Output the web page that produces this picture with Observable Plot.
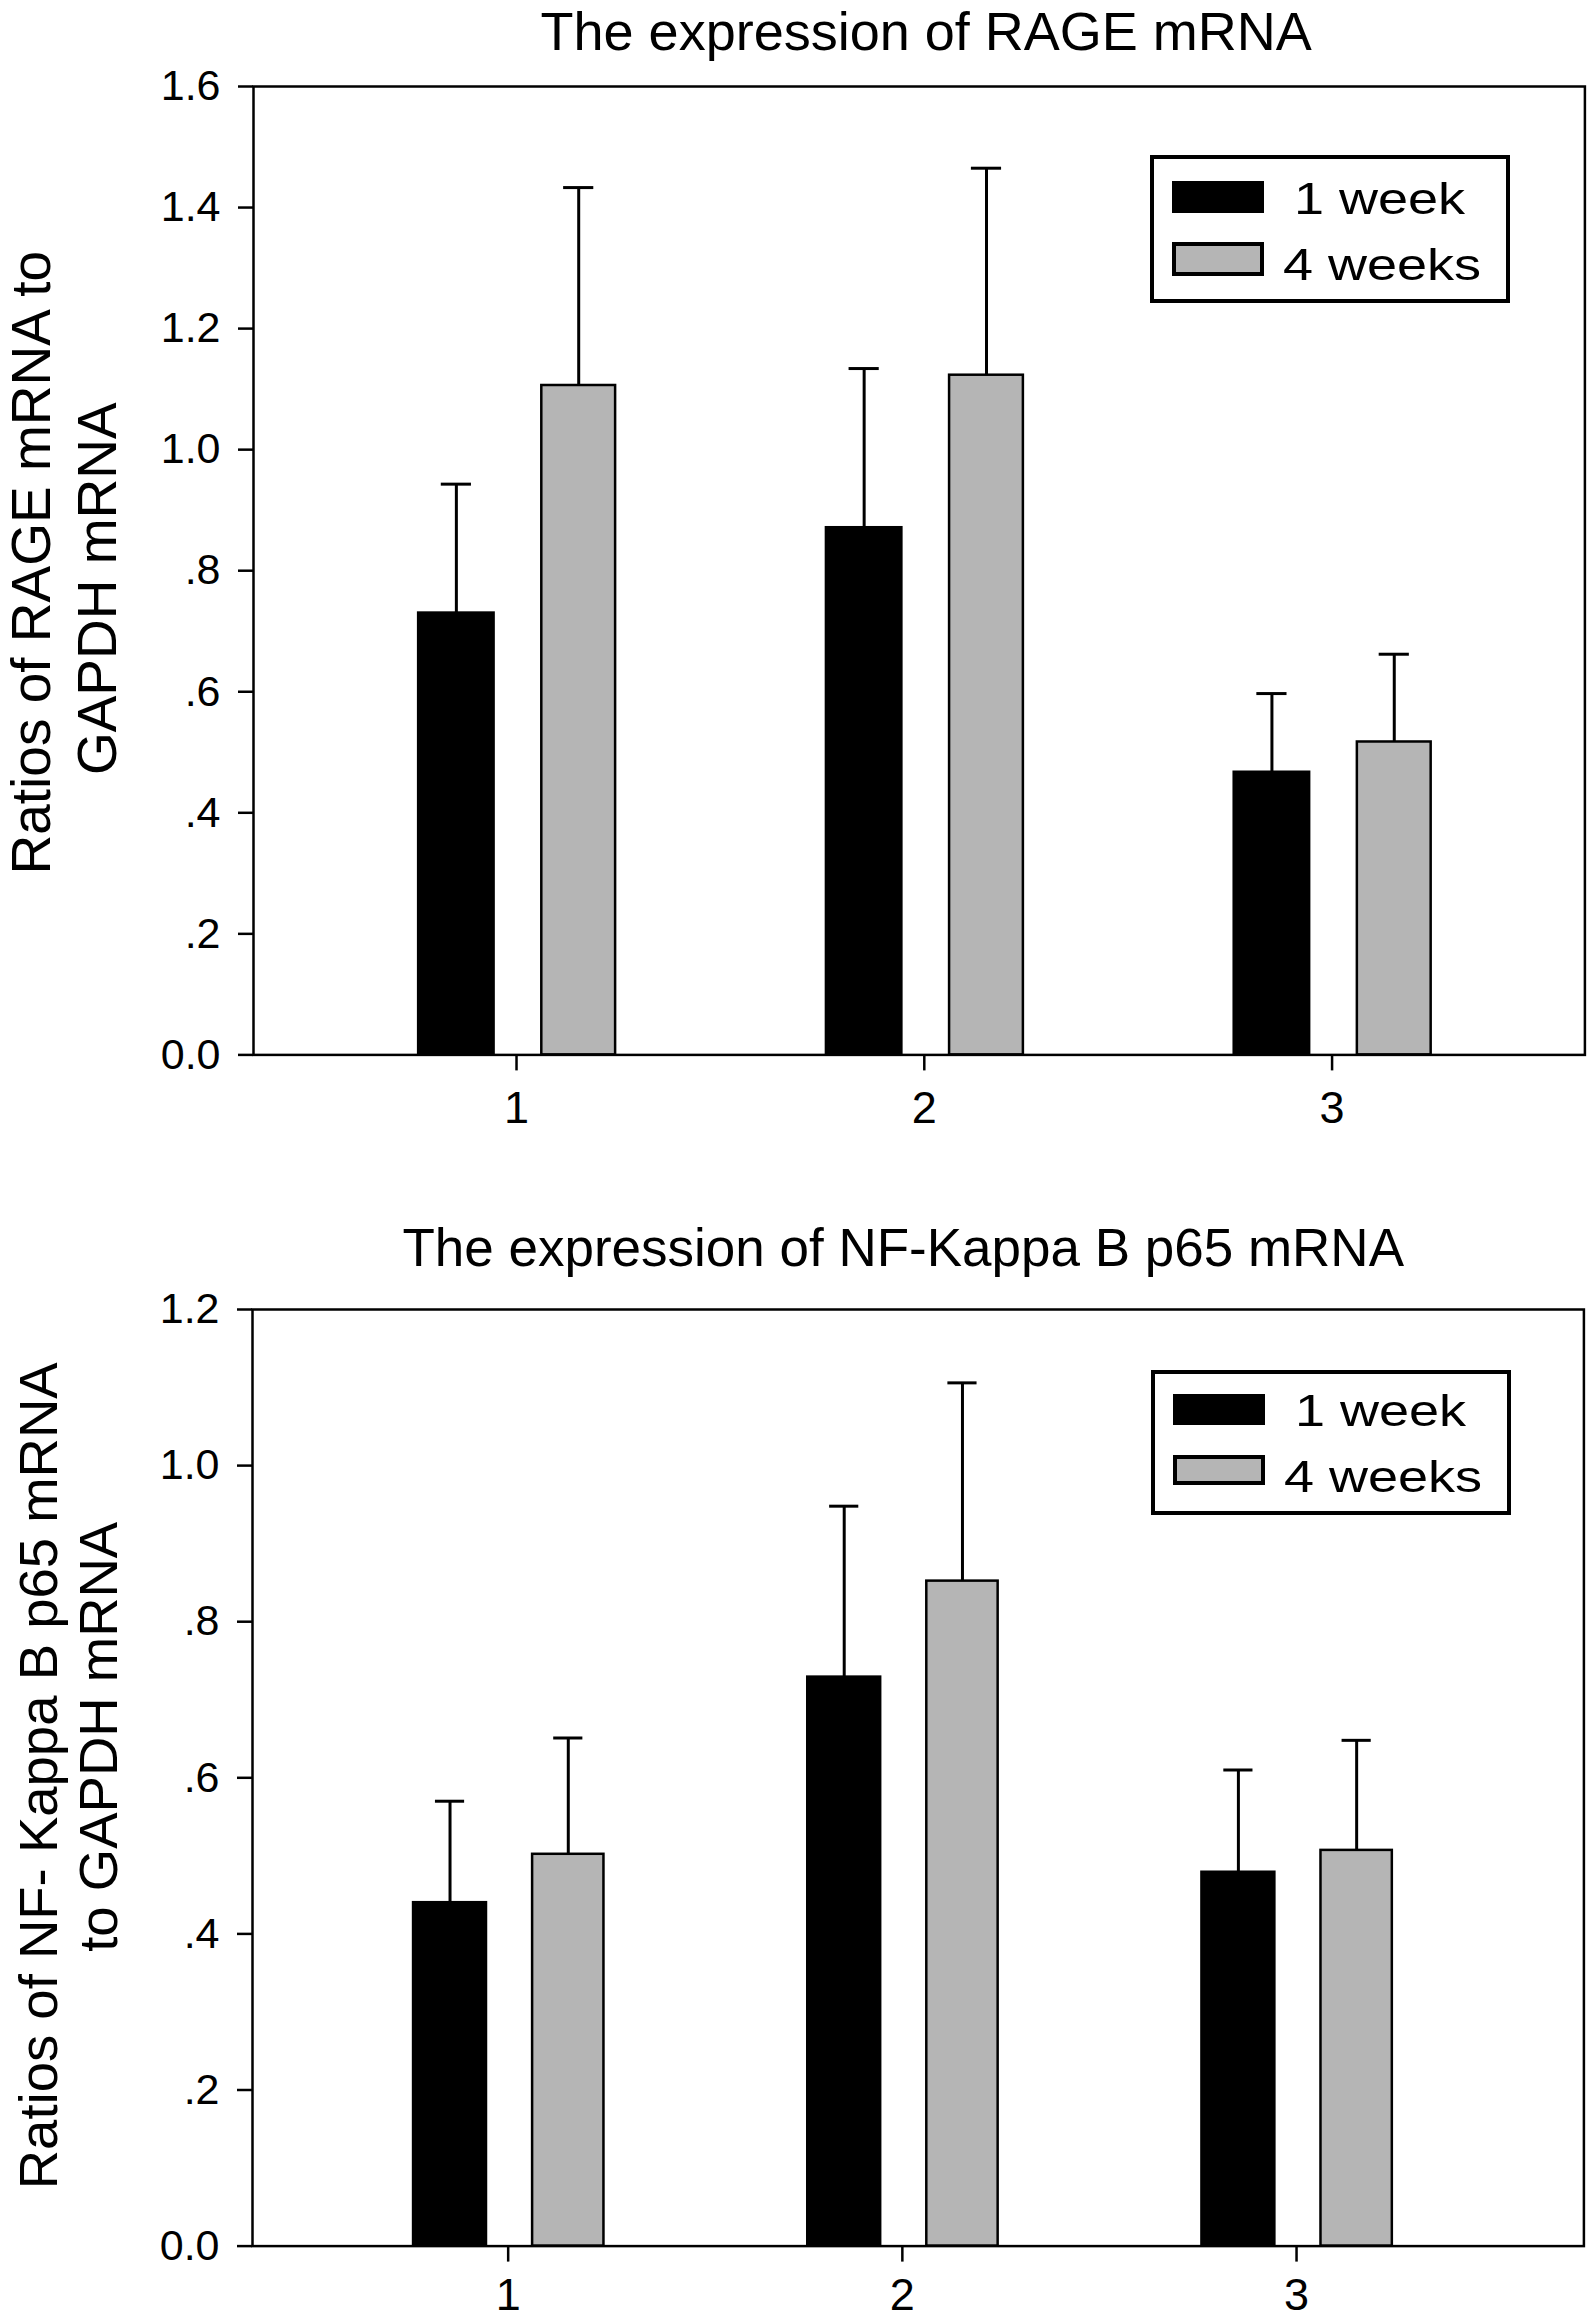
<!DOCTYPE html>
<html>
<head>
<meta charset="utf-8">
<script src="https://cdn.jsdelivr.net/npm/d3@7"></script>
<script src="https://cdn.jsdelivr.net/npm/@observablehq/plot@0.6"></script>
<style>
  html, body { margin: 0; padding: 0; background: white; }
  body { width: 1591px; font-family: "Liberation Sans", Arial, sans-serif; }
  .panel { position: relative; width: 1591px; }
  .panel svg { display: block; }
  .legend { position: absolute; box-sizing: border-box; border: 4px solid black; background: white; width: 360px; }
  .sw { position: absolute; box-sizing: border-box; left: 17.7px; width: 92.3px; }
  .lt { position: absolute; font-size: 45px; line-height: 45px; white-space: nowrap; color: black;
        transform: scaleX(1.2); transform-origin: left center; font-family: "Liberation Sans", Arial, sans-serif; }
</style>
</head>
<body>
<div id="p1" class="panel"></div>
<div id="p2" class="panel"></div>
<script>
// ---------- data ----------
const groups = [1, 2, 3];
const xTickLabels = ["1", "2", "3"];
const seriesNames = ["1 week", "4 weeks"];

const rageWeek1 = [0.730, 0.871, 0.467];
const rageWeek1Err = [0.213, 0.263, 0.130];
const rageWeek4 = [1.106, 1.123, 0.517];
const rageWeek4Err = [0.327, 0.342, 0.145];

const nfWeek1 = [0.440, 0.729, 0.479];
const nfWeek1Err = [0.130, 0.219, 0.131];
const nfWeek4 = [0.502, 0.852, 0.507];
const nfWeek4Err = [0.149, 0.254, 0.141];

const rageTicks = [0, 0.2, 0.4, 0.6, 0.8, 1.0, 1.2, 1.4, 1.6];
const rageTickLabels = ["0.0", ".2", ".4", ".6", ".8", "1.0", "1.2", "1.4", "1.6"];
const nfTicks = [0, 0.2, 0.4, 0.6, 0.8, 1.0, 1.2];
const nfTickLabels = ["0.0", ".2", ".4", ".6", ".8", "1.0", "1.2"];

const rageTitle = "The expression of RAGE mRNA";
const rageYLabel = ["Ratios of RAGE mRNA to", "GAPDH mRNA"];
const nfTitle = "The expression of NF-Kappa B p65 mRNA";
const nfYLabel = ["Ratios of NF- Kappa B p65 mRNA", "to GAPDH mRNA"];

// ---------- helpers ----------
const FONT = "Liberation Sans, Arial, sans-serif";
const colors = ["#000000", "#b5b5b5"];
const barLeft = [-0.240, 0.062];
const barRight = [-0.055, 0.243];
const capHalf = 0.037;

function rows(w1, e1, w4, e4) {
  const out = [];
  groups.forEach((g, i) => {
    out.push({group: g, s: 0, value: w1[i], err: e1[i]});
    out.push({group: g, s: 1, value: w4[i], err: e4[i]});
  });
  return out;
}

function panel(opts) {
  const data = rows(...opts.series);
  const center = d => d.group + (barLeft[d.s] + barRight[d.s]) / 2;
  return Plot.plot({
    width: 1591,
    height: opts.height,
    marginTop: opts.mt,
    marginBottom: opts.mb,
    marginLeft: opts.ml,
    marginRight: opts.mr,
    style: {fontFamily: FONT, color: "black", background: "white"},
    x: {type: "linear", domain: opts.xDomain},
    y: {type: "linear", domain: opts.yDomain},
    marks: [
      Plot.rect(data, {
        x1: d => d.group + barLeft[d.s],
        x2: d => d.group + barRight[d.s],
        y1: 0,
        y2: d => d.value,
        fill: d => colors[d.s],
        stroke: "black",
        strokeWidth: 2.5
      }),
      Plot.ruleX(data, {
        x: center,
        y1: d => d.value,
        y2: d => d.value + d.err,
        stroke: "black",
        strokeWidth: 3
      }),
      Plot.ruleY(data, {
        y: d => d.value + d.err,
        x1: d => center(d) - capHalf,
        x2: d => center(d) + capHalf,
        stroke: "black",
        strokeWidth: 3
      }),
      Plot.axisX(groups, {
        label: null,
        tickSize: 16,
        tickPadding: opts.xPad,
        fontSize: 45,
        strokeWidth: 2.5,
        tickFormat: g => xTickLabels[groups.indexOf(g)]
      }),
      Plot.axisY(opts.ticks, {
        label: null,
        tickSize: 15,
        tickPadding: 18,
        fontSize: 43,
        strokeWidth: 2.5,
        tickFormat: t => opts.tickLabels[opts.ticks.indexOf(t)]
      }),
      Plot.frame({stroke: "black", strokeWidth: 2.5}),
      Plot.text([opts.title], {
        text: d => d,
        frameAnchor: "top",
        textAnchor: "middle",
        lineAnchor: "bottom",
        dy: opts.titleDy,
        dx: opts.titleDx,
        fontSize: opts.titleSize,
        fill: "black"
      }),
      Plot.text([opts.yLabel[0]], {
        text: d => d,
        frameAnchor: "left",
        textAnchor: "middle",
        lineAnchor: "middle",
        rotate: -90,
        dx: opts.yl1dx,
        dy: opts.yl1dy,
        fontSize: opts.ylSize,
        fill: "black"
      }),
      Plot.text([opts.yLabel[1]], {
        text: d => d,
        frameAnchor: "left",
        textAnchor: "middle",
        lineAnchor: "middle",
        rotate: -90,
        dx: opts.yl2dx,
        dy: opts.yl2dy,
        fontSize: opts.ylSize,
        fill: "black"
      })
    ]
  });
}

function legend(container, top, left, height, layout) {
  const box = document.createElement("div");
  box.className = "legend";
  box.style.top = top + "px";
  box.style.left = left + "px";
  box.style.height = height + "px";
  seriesNames.forEach((name, i) => {
    const sw = document.createElement("div");
    sw.className = "sw";
    sw.style.top = layout.swTop[i] + "px";
    sw.style.height = layout.swH[i] + "px";
    sw.style.background = colors[i];
    if (i === 1) sw.style.border = "4px solid black";
    box.appendChild(sw);
    const t = document.createElement("div");
    t.className = "lt";
    t.textContent = name;
    t.style.top = layout.txTop[i] + "px";
    t.style.left = layout.txLeft[i] + "px";
    box.appendChild(t);
  });
  container.appendChild(box);
}

// ---------- panel 1 ----------
const p1 = document.getElementById("p1");
p1.appendChild(panel({
  series: [rageWeek1, rageWeek1Err, rageWeek4, rageWeek4Err],
  height: 1160, mt: 86, mb: 105.6, ml: 253, mr: 6.6,
  xDomain: [0.355, 3.62], yDomain: [0, 1.6],
  ticks: rageTicks, tickLabels: rageTickLabels, xPad: 20,
  title: rageTitle, titleDy: -37, titleDx: 7, titleSize: 54,
  yLabel: rageYLabel, ylSize: 55,
  yl1dx: -221, yl1dy: -8, yl2dx: -155.6, yl2dy: 18
}));
legend(p1, 155, 1150, 148, {
  swTop: [22, 83.3], swH: [31.7, 33.4],
  txTop: [17, 83], txLeft: [140, 128.7]
});

// ---------- panel 2 ----------
const p2 = document.getElementById("p2");
p2.appendChild(panel({
  series: [nfWeek1, nfWeek1Err, nfWeek4, nfWeek4Err],
  height: 1161, mt: 149, mb: 75.4, ml: 252, mr: 7.6,
  xDomain: [0.3514, 3.729], yDomain: [0, 1.2],
  ticks: nfTicks, tickLabels: nfTickLabels, xPad: 16,
  title: nfTitle, titleDy: -44, titleDx: -15, titleSize: 53,
  yLabel: nfYLabel, ylSize: 54.5,
  yl1dx: -213.4, yl1dy: -2, yl2dx: -152.5, yl2dy: -41
}));
legend(p2, 209.5, 1151, 145, {
  swTop: [20.7, 81.7], swH: [31.3, 30],
  txTop: [14.5, 80], txLeft: [140, 128.7]
});
</script>
</body>
</html>
